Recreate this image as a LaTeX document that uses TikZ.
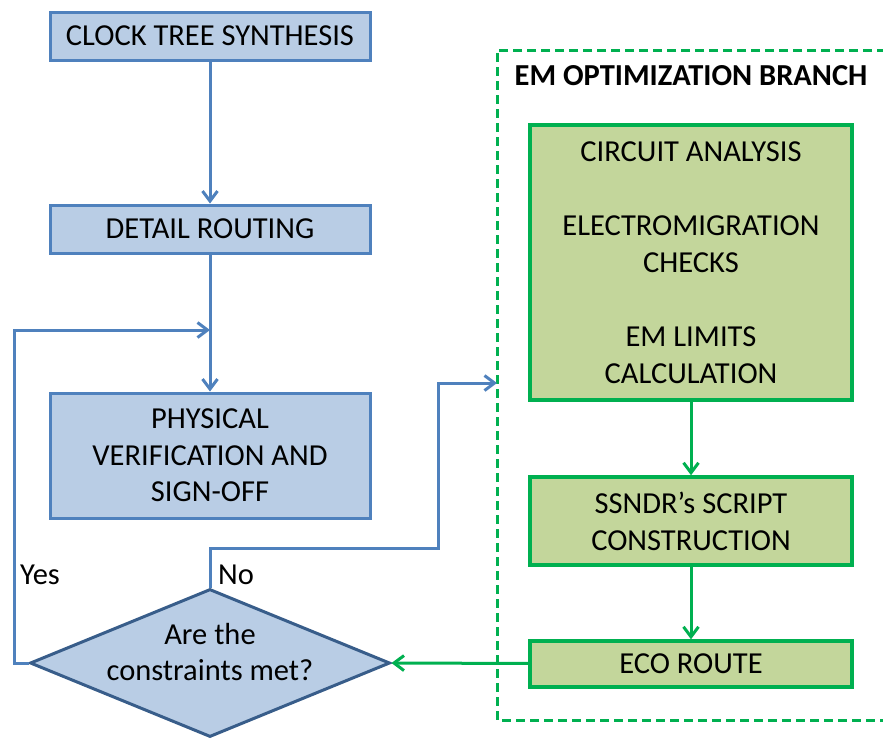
\documentclass[tikz,border=0pt]{standalone}
\usepackage{fontspec}
\setmainfont{Carlito}
\usetikzlibrary{shapes.geometric,arrows.meta}
\definecolor{bluefill}{HTML}{B9CDE5}
\definecolor{blueline}{HTML}{4F81BD}
\definecolor{diaedge}{HTML}{385D8A}
\definecolor{greenfill}{HTML}{C3D69B}
\definecolor{greenline}{HTML}{00B050}
\tikzset{
  bluebox/.style={draw=blueline, fill=bluefill, line width=3pt, minimum width=320pt,
    align=center, inner sep=0pt, font=\fontsize{30.5}{36.5}\selectfont},
  greenbox/.style={draw=greenline, fill=greenfill, line width=3.5pt, minimum width=322pt,
    align=center, inner sep=0pt, font=\fontsize{30.5}{37}\selectfont},
  decision/.style={diamond, draw=diaedge, fill=bluefill, line width=3pt, inner sep=0pt,
    minimum width=360pt, minimum height=148pt, aspect=2.43},
  blueflow/.style={draw=blueline, line width=3pt},
  greenflow/.style={draw=greenline, line width=3pt},
  tip/.style={-{Straight Barb[length=10pt,width=15pt]}},
  lbl/.style={font=\fontsize{30.5}{36}\selectfont, inner sep=0pt, align=center}
}
\begin{document}
\begin{tikzpicture}[x=1pt,y=-1pt]
\useasboundingbox (0,0) rectangle (883,740);

% main flow
\node[bluebox, minimum height=48pt] (cts) at (210,36) {CLOCK TREE SYNTHESIS};
\node[bluebox, minimum height=48pt] (route) at (210,229) {DETAIL ROUTING};
\node[bluebox, minimum height=125pt] (pv) at (210,455.5) {PHYSICAL\\VERIFICATION AND\\SIGN-OFF};
\node[decision] (dec) at (210,663) {};
\node[lbl] (dectext) at (210,652) {Are the\\constraints met?};

% EM optimisation branch
\draw[greenline, line width=3pt, dash pattern=on 9pt off 5pt] (900,50) -- (497,50) -- (497,720) -- (900,720);
\node[font=\fontsize{30.5}{36}\selectfont\bfseries, inner sep=0pt] (brtitle) at (691,76) {EM OPTIMIZATION BRANCH};
\node[greenbox, minimum height=275pt] (ana) at (691,262.5)
  {CIRCUIT ANALYSIS\\ \\ELECTROMIGRATION\\CHECKS\\ \\EM LIMITS\\CALCULATION};
\node[greenbox, minimum height=88pt] (ssndr) at (691,521) {SSNDR’s SCRIPT\\CONSTRUCTION};
\node[greenbox, minimum height=46pt] (eco) at (691,664) {ECO ROUTE};

% helper points for the routed connectors
\coordinate (join) at (210,330);
\coordinate (yescorner) at (14,663);
\coordinate (nobend) at (438,548);
\coordinate (brentry) at (497,383);

% connectors
\draw[blueflow, tip] (cts) -- (route);
\draw[blueflow, tip] (route) -- (pv);
\draw[blueflow, tip] (dec.west) -- (yescorner) |- (join);
\draw[blueflow, tip] (dec.north) |- (nobend) |- (brentry);
\draw[greenflow, tip] (ana) -- (ssndr);
\draw[greenflow, tip] (ssndr) -- (eco);
\draw[greenflow, tip] (eco) -- (dec.east);

% branch labels
\node[lbl] (yes) at (40,575) {Yes};
\node[lbl] (no) at (236,575) {No};
\end{tikzpicture}
\end{document}
